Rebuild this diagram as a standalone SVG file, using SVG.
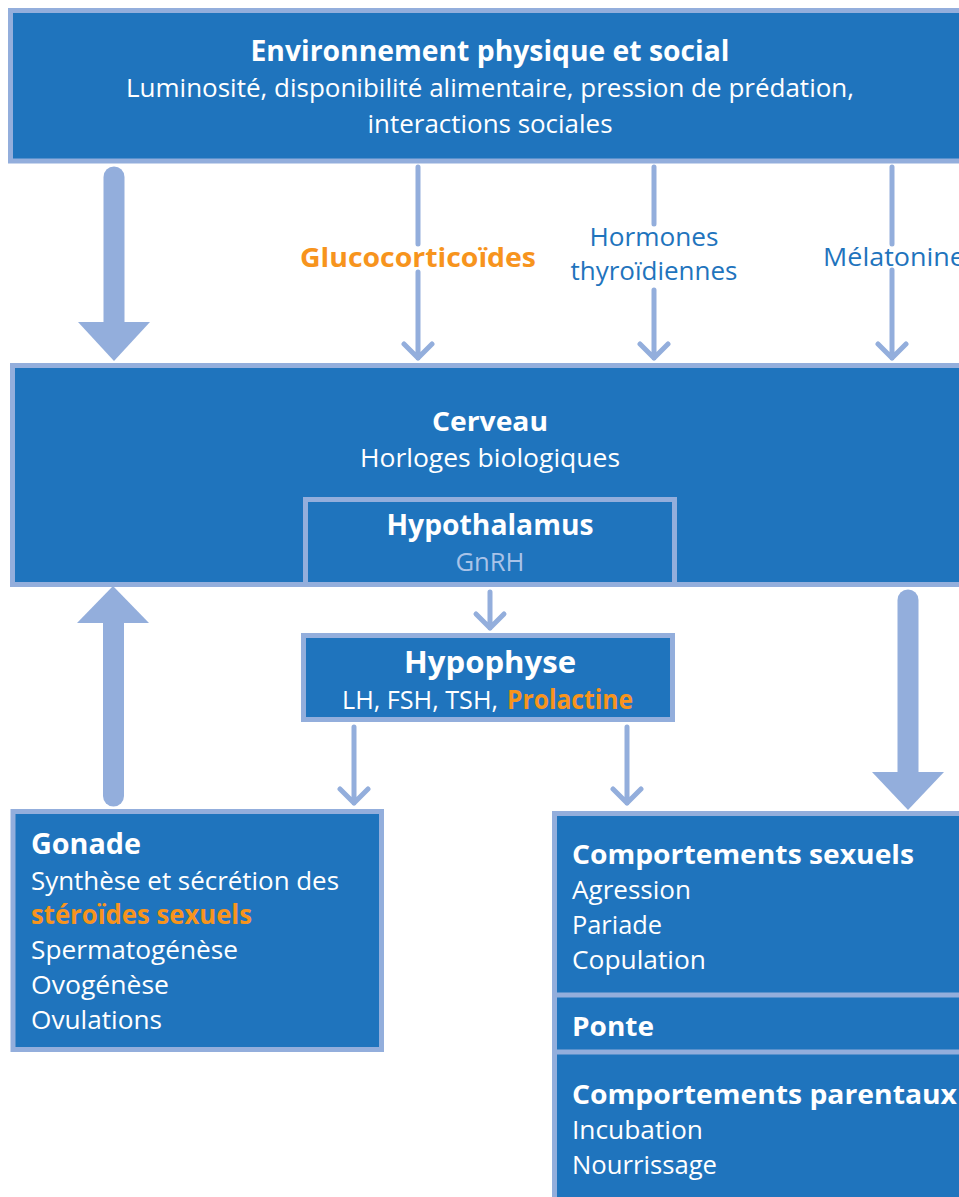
<svg xmlns="http://www.w3.org/2000/svg" width="959" height="1197" viewBox="0 0 959 1197">
<style>
.box{fill:#1F74BD;stroke:#93AEDC;stroke-width:5}
.t{font-family:"Open Sans","Liberation Sans",sans-serif;fill:#FFFFFF;font-size:25.5px}
.b{font-weight:bold;font-size:27px}
.o{fill:#F7941D}
.bl{fill:#1F74BD}
.thin{fill:none;stroke:#93AEDC;stroke-width:5;stroke-linecap:round;stroke-linejoin:round}
.shaft{stroke:#93AEDC;stroke-width:21;stroke-linecap:round}
.head{fill:#93AEDC}
</style>
<rect width="959" height="1197" fill="#FFFFFF"/>
<g id="connectors">
  <line class="shaft" x1="114" y1="177" x2="114" y2="330"/>
  <polygon class="head" points="78,322 150,322 114,361"/>
  <path class="thin" d="M418,167 V244 M418,272 V358 M404,344 L418,358 L432,344"/>
  <path class="thin" d="M654,167 V224 M654,290 V358 M640,344 L654,358 L668,344"/>
  <path class="thin" d="M892,167 V244 M892,270 V358 M878,344 L892,358 L906,344"/>
  <path class="thin" d="M490,592 V628 M476,614 L490,628 L504,614"/>
  <path class="thin" d="M354,727 V803 M340,789 L354,803 L368,789"/>
  <path class="thin" d="M627,727 V803 M613,789 L627,803 L641,789"/>
  <line class="shaft" x1="113.5" y1="615" x2="113.5" y2="796"/>
  <polygon class="head" points="77,623 149,623 113,586"/>
  <line class="shaft" x1="908" y1="600" x2="908" y2="780"/>
  <polygon class="head" points="872,772 944,772 908,810"/>
</g>
<g id="labels">
  <text class="t b o" x="418" y="267" text-anchor="middle" textLength="236" lengthAdjust="spacingAndGlyphs">Glucocorticoïdes</text>
  <text class="t bl" x="654" y="246" text-anchor="middle" textLength="129" lengthAdjust="spacingAndGlyphs">Hormones</text>
  <text class="t bl" x="654" y="280" text-anchor="middle" textLength="167" lengthAdjust="spacingAndGlyphs">thyroïdiennes</text>
  <text class="t bl" x="823" y="266" textLength="142" lengthAdjust="spacingAndGlyphs">Mélatonine</text>
</g>
<g id="environnement">
  <rect class="box" x="10.5" y="10.5" width="1000" height="150.5"/>
  <text class="t b" x="490" y="61" text-anchor="middle" style="font-size:28px" textLength="479" lengthAdjust="spacingAndGlyphs">Environnement physique et social</text>
  <text class="t" x="490" y="97" text-anchor="middle" textLength="728" lengthAdjust="spacingAndGlyphs">Luminosité, disponibilité alimentaire, pression de prédation,</text>
  <text class="t" x="490" y="133" text-anchor="middle" textLength="245" lengthAdjust="spacingAndGlyphs">interactions sociales</text>
</g>
<g id="cerveau">
  <rect class="box" x="12.5" y="365.5" width="1000" height="219"/>
  <text class="t b" x="490" y="431" text-anchor="middle" textLength="116" lengthAdjust="spacingAndGlyphs">Cerveau</text>
  <text class="t" x="490" y="467" text-anchor="middle" textLength="260" lengthAdjust="spacingAndGlyphs">Horloges biologiques</text>
</g>
<g id="hypothalamus">
  <rect class="box" x="305.5" y="499.5" width="369" height="85"/>
  <text class="t b" x="490" y="535" text-anchor="middle" style="font-size:28px" textLength="207" lengthAdjust="spacingAndGlyphs">Hypothalamus</text>
  <text class="t" x="490" y="571" text-anchor="middle" style="fill:#A9C3E8" textLength="69" lengthAdjust="spacingAndGlyphs">GnRH</text>
</g>
<g id="hypophyse">
  <rect class="box" x="303.5" y="635.5" width="369" height="84"/>
  <text class="t b" x="490" y="673" text-anchor="middle" style="font-size:30px" textLength="172" lengthAdjust="spacingAndGlyphs">Hypophyse</text>
  <text class="t" x="342" y="709" textLength="156" lengthAdjust="spacingAndGlyphs">LH, FSH, TSH,</text>
  <text class="t b o" x="507" y="709" style="font-size:26px" textLength="126" lengthAdjust="spacingAndGlyphs">Prolactine</text>
</g>
<g id="gonade">
  <rect class="box" x="13" y="811.5" width="368.5" height="238"/>
  <text class="t b" x="31" y="854" style="font-size:28px" textLength="110" lengthAdjust="spacingAndGlyphs">Gonade</text>
  <text class="t" x="31" y="890" textLength="308" lengthAdjust="spacingAndGlyphs">Synthèse et sécrétion des</text>
  <text class="t b o" x="31" y="924" style="font-size:26px" textLength="221" lengthAdjust="spacingAndGlyphs">stéroïdes sexuels</text>
  <text class="t" x="31" y="959" textLength="207" lengthAdjust="spacingAndGlyphs">Spermatogénèse</text>
  <text class="t" x="31" y="994" textLength="138" lengthAdjust="spacingAndGlyphs">Ovogénèse</text>
  <text class="t" x="31" y="1029" textLength="131" lengthAdjust="spacingAndGlyphs">Ovulations</text>
</g>
<g id="comportements">
  <rect class="box" x="554.5" y="813.5" width="500" height="500"/>
  <line x1="557" y1="995" x2="959" y2="995" stroke="#93AEDC" stroke-width="5"/>
  <line x1="557" y1="1052" x2="959" y2="1052" stroke="#93AEDC" stroke-width="5"/>
  <text class="t b" x="572" y="864" textLength="342" lengthAdjust="spacingAndGlyphs">Comportements sexuels</text>
  <text class="t" x="572" y="899" textLength="119" lengthAdjust="spacingAndGlyphs">Agression</text>
  <text class="t" x="572" y="934" textLength="90" lengthAdjust="spacingAndGlyphs">Pariade</text>
  <text class="t" x="572" y="969" textLength="134" lengthAdjust="spacingAndGlyphs">Copulation</text>
  <text class="t b" x="572" y="1036" textLength="82" lengthAdjust="spacingAndGlyphs">Ponte</text>
  <text class="t b" x="572" y="1104" textLength="385" lengthAdjust="spacingAndGlyphs">Comportements parentaux</text>
  <text class="t" x="572" y="1139" textLength="131" lengthAdjust="spacingAndGlyphs">Incubation</text>
  <text class="t" x="572" y="1174" textLength="145" lengthAdjust="spacingAndGlyphs">Nourrissage</text>
</g>
</svg>
